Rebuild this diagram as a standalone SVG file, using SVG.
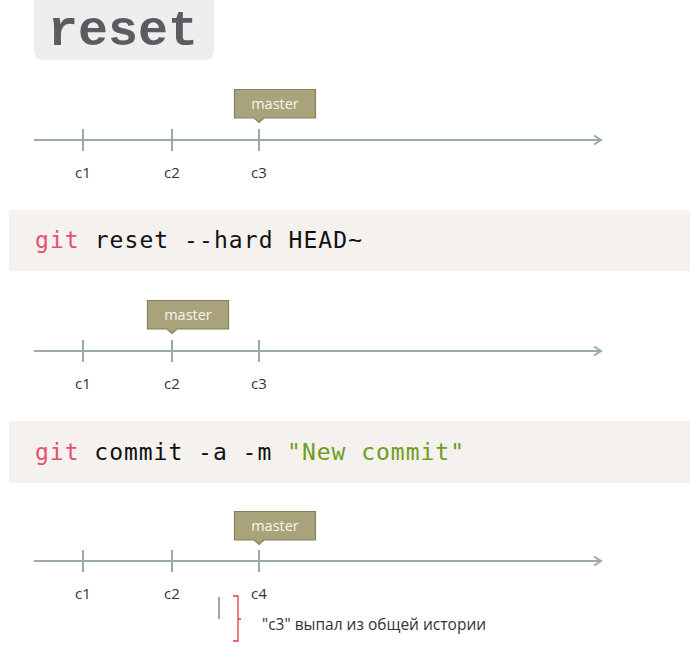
<svg xmlns="http://www.w3.org/2000/svg" width="690" height="653" viewBox="0 0 690 653">
<style>
.axis{stroke:#9aaaa6;stroke-width:2;fill:none}
.tick{stroke:#9aaaa6;stroke-width:2}
.lbl{font-family:"Open Sans","Noto Sans",sans-serif;font-size:15px;fill:#333;text-anchor:middle}
.tag{fill:#a8a37a;stroke:#85805c;stroke-width:1.2}
.tagt{font-family:"Open Sans","Noto Sans",sans-serif;font-size:14.5px;fill:#f7f6ef;text-anchor:middle}
.code{fill:#f4f1ee}
.ct{font-family:"DejaVu Sans Mono",monospace;font-size:23px;fill:#111}
.kw{fill:#e8506e}
.str{fill:#6f9e1a}
</style>
<defs>
<marker id="arr" markerWidth="12" markerHeight="12" refX="9" refY="6" orient="auto" markerUnits="userSpaceOnUse">
<path d="M2,1.5 L9,6 L2,10.5" fill="none" stroke="#9aaaa6" stroke-width="2"/>
</marker>
</defs>
<g id="title">
<rect x="34" y="-8" width="180" height="68" rx="9" fill="#edeeee"/>
<text x="123" y="45" text-anchor="middle" font-family="'Liberation Mono',monospace" font-weight="bold" font-size="50" fill="#5b5c60">reset</text>
</g>
<g id="connectors">
<line class="axis" x1="34" y1="140" x2="601" y2="140" marker-end="url(#arr)"/>
<line class="axis" x1="34" y1="351" x2="601" y2="351" marker-end="url(#arr)"/>
<line class="axis" x1="34" y1="561" x2="601" y2="561" marker-end="url(#arr)"/>
</g>
<g id="timeline1">
<line class="tick" x1="83" y1="129" x2="83" y2="151"/>
<line class="tick" x1="172" y1="129" x2="172" y2="151"/>
<line class="tick" x1="259" y1="129" x2="259" y2="151"/>
<text class="lbl" x="83" y="178">c1</text>
<text class="lbl" x="172" y="178">c2</text>
<text class="lbl" x="259" y="178">c3</text>
</g>
<g id="master1">
<path class="tag" d="M234.5,89.5 H315.5 V118 H264 L259,122.5 L254,118 H234.5 Z"/>
<text class="tagt" x="275" y="109">master</text>
</g>
<g id="cmd1">
<rect class="code" x="9" y="210" width="681" height="61"/>
<text class="ct" x="35" y="248" textLength="327" lengthAdjust="spacing"><tspan class="kw">git</tspan> reset --hard HEAD~</text>
</g>
<g id="timeline2">
<line class="tick" x1="83" y1="340" x2="83" y2="362"/>
<line class="tick" x1="172" y1="340" x2="172" y2="362"/>
<line class="tick" x1="259" y1="340" x2="259" y2="362"/>
<text class="lbl" x="83" y="389">c1</text>
<text class="lbl" x="172" y="389">c2</text>
<text class="lbl" x="259" y="389">c3</text>
</g>
<g id="master2">
<path class="tag" d="M147.5,300.5 H228.5 V329 H177 L172,333.5 L167,329 H147.5 Z"/>
<text class="tagt" x="188" y="320">master</text>
</g>
<g id="cmd2">
<rect class="code" x="9" y="421" width="681" height="62"/>
<text class="ct" x="35" y="460" textLength="429" lengthAdjust="spacing"><tspan class="kw">git</tspan> commit -a -m <tspan class="str">"New commit"</tspan></text>
</g>
<g id="timeline3">
<line class="tick" x1="83" y1="550" x2="83" y2="572"/>
<line class="tick" x1="172" y1="550" x2="172" y2="572"/>
<line class="tick" x1="259" y1="550" x2="259" y2="572"/>
<text class="lbl" x="83" y="599">c1</text>
<text class="lbl" x="172" y="599">c2</text>
<text class="lbl" x="259" y="599">c4</text>
</g>
<g id="master3">
<path class="tag" d="M234.5,511.5 H315.5 V540 H264 L259,544.5 L254,540 H234.5 Z"/>
<text class="tagt" x="275" y="531">master</text>
</g>
<g id="note">
<line x1="219" y1="597" x2="219" y2="619" stroke="#9aaaa6" stroke-width="2"/>
<path d="M233,596 H238 V641 H233 M238,619 H241" fill="none" stroke="#e8393f" stroke-width="1.3"/>
<text x="262" y="630" font-family="'Open Sans','Noto Sans',sans-serif" font-size="15.5" fill="#333">"c3" выпал из общей истории</text>
</g>
</svg>
